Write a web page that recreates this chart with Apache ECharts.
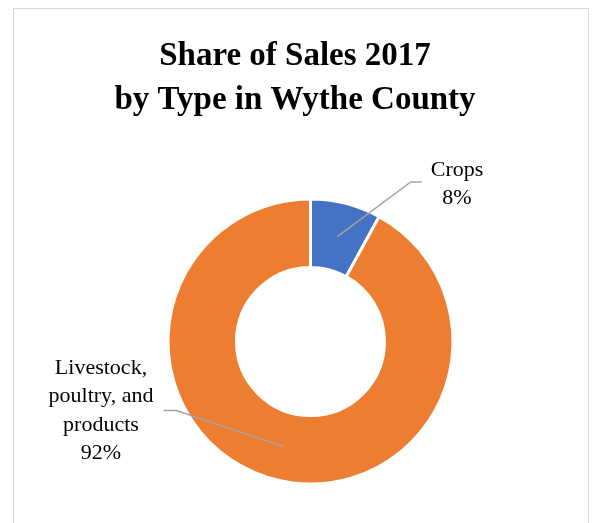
<!DOCTYPE html>
<html>
<head>
<meta charset="utf-8">
<script src="https://cdn.jsdelivr.net/npm/echarts@6/dist/echarts.min.js"></script>
<style>
  html, body { margin: 0; padding: 0; background: #ffffff; }
  #chart { width: 595px; height: 523px; }
</style>
</head>
<body>
<div id="chart"></div>
<script>
// Sales share by type, 2017
const categories = ['Crops', 'Livestock,\npoultry, and\nproducts'];
const shares = [8, 92];
const colors = ['#4472C4', '#ED7D31'];

// Donut geometry (pixels)
const CX = 310.5, CY = 341.5, R_IN = 74, R_OUT = 142.5;
const R_MID = (R_IN + R_OUT) / 2;

// Where each label block sits, and which side its leader line comes from
const labelSpots = [
  { x: 457, y: 184, side: 'right' },
  { x: 101, y: 410.5, side: 'left' }
];

const pieData = categories.map((name, i) => ({ name: name, value: shares[i] }));

const chart = echarts.init(document.getElementById('chart'), null, { renderer: 'canvas' });

chart.setOption({
  animation: false,
  backgroundColor: '#ffffff',
  title: {
    text: 'Share of Sales 2017\nby Type in Wythe County',
    left: 290,
    top: 29,
    textAlign: 'center',
    textStyle: {
      fontFamily: 'Liberation Serif',
      fontWeight: 'bold',
      fontSize: 33,
      lineHeight: 44,
      color: '#000000'
    }
  },
  graphic: [{
    type: 'rect',
    shape: { x: 13.5, y: 8.5, width: 575, height: 540 },
    style: { fill: 'none', stroke: '#d9d9d9', lineWidth: 1 },
    silent: true
  }],
  series: [
    // the ring itself
    {
      type: 'pie',
      z: 2,
      center: [CX, CY],
      radius: [R_IN, R_OUT],
      startAngle: 90,
      clockwise: true,
      data: pieData.map((d, i) => ({ name: d.name, value: d.value, itemStyle: { color: colors[i] } })),
      itemStyle: { borderColor: '#ffffff', borderWidth: 3 },
      label: { show: false },
      labelLine: { show: false }
    },
    // same slices, invisible, carrying the labels and leader lines on top
    {
      type: 'pie',
      z: 5,
      silent: true,
      center: [CX, CY],
      radius: [R_IN, R_OUT],
      startAngle: 90,
      clockwise: true,
      avoidLabelOverlap: false,
      data: pieData,
      itemStyle: { color: 'rgba(0,0,0,0)', borderWidth: 0 },
      label: {
        show: true,
        position: 'outside',
        formatter: p => p.name + '\n' + p.value + '%',
        fontFamily: 'Liberation Serif',
        fontSize: 22,
        lineHeight: 28.5,
        color: '#000000',
        align: 'center'
      },
      labelLine: {
        show: true,
        length: 20,
        length2: 10,
        lineStyle: { color: '#A5A5A5', width: 1.5, opacity: 1 }
      },
      labelLayout: function (params) {
        const spot = labelSpots[params.dataIndex];
        const pts = params.labelLinePoints;
        // start the leader inside the ring, along the slice's mid direction
        const p0 = pts[0];
        const dx = p0[0] - CX, dy = p0[1] - CY;
        const len = Math.sqrt(dx * dx + dy * dy) || 1;
        const start = [CX + dx / len * R_MID, CY + dy / len * R_MID];
        const halfW = params.labelRect.width / 2;
        let end, elbow;
        if (spot.side === 'right') {
          end = [spot.x - halfW - 9, spot.y - 2];
          elbow = [end[0] - 11, end[1]];
        } else {
          end = [spot.x + halfW + 10, spot.y];
          elbow = [end[0] + 13, end[1]];
        }
        return {
          x: spot.x,
          y: spot.y,
          align: 'center',
          verticalAlign: 'middle',
          labelLinePoints: [start, elbow, end]
        };
      }
    }
  ]
});
</script>
</body>
</html>
